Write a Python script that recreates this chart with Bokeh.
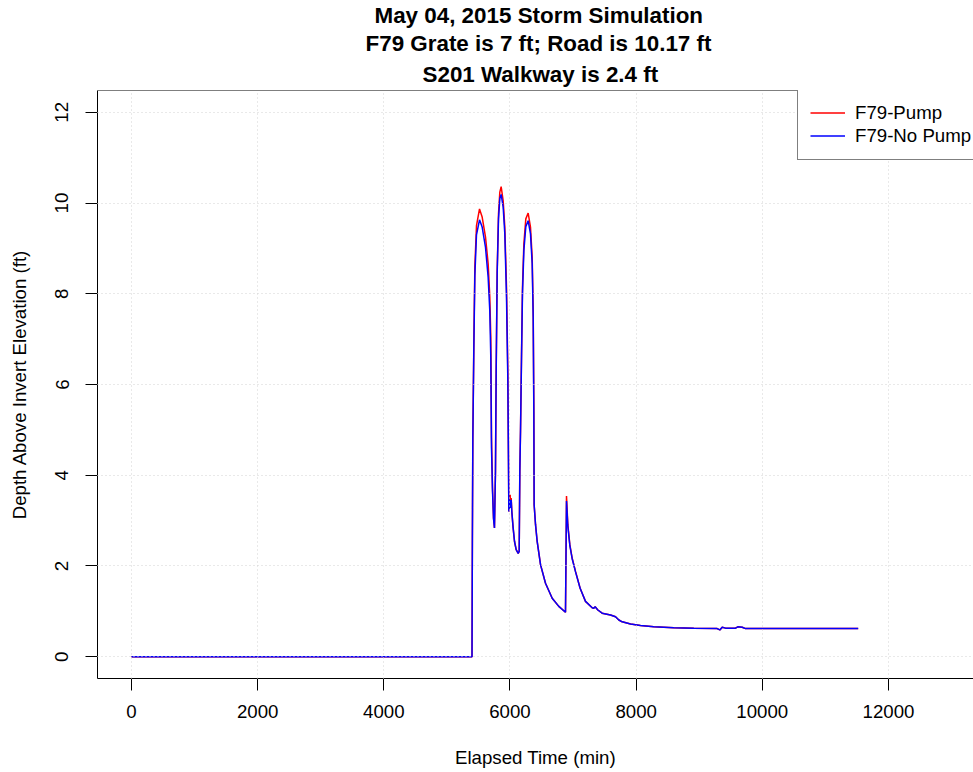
from bokeh.plotting import figure
from bokeh.models import (Title, FixedTicker, Legend, LegendItem, Span, Range1d)
from bokeh.embed import file_html
from bokeh.resources import INLINE

# ---- data ----
time_min = [0, 5398, 5404, 5411, 5427, 5443, 5469, 5517, 5559, 5612, 5654, 5680,
            5696, 5707, 5723, 5739, 5754, 5770, 5781, 5797, 5818, 5839, 5860, 5892,
            5918, 5945, 5966, 5976, 5982, 5992, 6003, 6008, 6019, 6029, 6050, 6072,
            6098, 6130, 6146, 6156, 6167, 6183, 6198, 6220, 6251, 6288, 6325, 6352,
            6368, 6378, 6383, 6405, 6431, 6484, 6563, 6669, 6774, 6880, 6896, 6917,
            6949, 6986, 7039, 7112, 7197, 7303, 7329, 7350, 7393, 7461, 7594, 7673,
            7726, 7779, 7911, 8069, 8281, 8598, 8915, 9284, 9327, 9364, 9417, 9575,
            9612, 9681, 9734, 10500, 11520]

depth_pump = [0, 0, 2.6, 4.8, 6.9, 8.6, 9.5, 9.87, 9.69, 9.25, 8.66, 7.92,
              7.03, 4.83, 3.72, 3.06, 2.84, 4.09, 6.30, 8.51, 9.76, 10.24, 10.36, 10.05,
              9.47, 8.14, 6.30, 4.46, 3.20, 3.43, 3.57, 3.28, 3.50, 3.20, 2.84, 2.54,
              2.36, 2.28, 2.32, 4.09, 4.98, 6.67, 8.14, 9.10, 9.65, 9.78, 9.47, 8.80,
              7.62, 5.56, 3.35, 2.91, 2.54, 2.03, 1.62, 1.29, 1.11, 0.98, 3.54, 2.91,
              2.47, 2.17, 1.88, 1.51, 1.22, 1.08, 1.07, 1.10, 1.03, 0.96, 0.92, 0.88,
              0.81, 0.77, 0.72, 0.69, 0.66, 0.64, 0.63, 0.62, 0.59, 0.65, 0.63, 0.63,
              0.66, 0.65, 0.62, 0.62, 0.62]

depth_nopump = [0, 0, 2.6, 4.8, 6.8, 8.4, 9.3, 9.63, 9.47, 9.02, 8.36, 7.62,
                6.59, 4.6, 3.65, 3.04, 2.84, 4.09, 6.25, 8.45, 9.65, 10.1, 10.19, 9.91,
                9.32, 7.92, 6.1, 4.3, 3.20, 3.40, 3.46, 3.28, 3.46, 3.20, 2.84, 2.54,
                2.36, 2.28, 2.32, 4.09, 4.98, 6.6, 8.0, 8.95, 9.48, 9.61, 9.32, 8.66,
                7.48, 5.4, 3.35, 2.91, 2.54, 2.03, 1.62, 1.29, 1.11, 0.98, 3.43, 2.88,
                2.45, 2.16, 1.87, 1.51, 1.22, 1.08, 1.07, 1.10, 1.03, 0.96, 0.92, 0.88,
                0.81, 0.77, 0.72, 0.69, 0.66, 0.64, 0.63, 0.62, 0.59, 0.65, 0.63, 0.63,
                0.66, 0.65, 0.62, 0.62, 0.62]

x_ticks = [0, 2000, 4000, 6000, 8000, 10000, 12000]
y_ticks = [0, 2, 4, 6, 8, 10, 12]
series_labels = ["F79-Pump", "F79-No Pump"]
title_lines = ["May 04, 2015 Storm Simulation",
               "F79 Grate is 7 ft; Road is 10.17 ft",
               "S201 Walkway is 2.4 ft"]

FONT = "Liberation Sans"
BASE = "18.67px"

p = figure(width=973, height=772, output_backend="svg", toolbar_location=None,
           x_range=Range1d(-539, 13348), y_range=Range1d(-0.48, 12.48),
           min_border_left=97, min_border_right=0, min_border_top=90,
           min_border_bottom=94)
p.title.visible = False
p.outline_line_color = None
p.background_fill_color = "white"
p.border_fill_color = "white"

title_offsets = [277, 268, 325]
title_standoffs = [1, 0, 8]
for txt, off, so in reversed(list(zip(title_lines, title_offsets, title_standoffs))):
    p.add_layout(Title(text=txt, align="left", offset=off, text_font=FONT,
                       text_font_size="22.4px", text_font_style="bold",
                       text_color="black", standoff=so), "above")

r1 = p.line(time_min, depth_pump, line_color="red", line_width=1.5)
r2 = p.line(time_min, depth_nopump, line_color="blue", line_width=1.5)

# top edge of the box
p.add_layout(Span(location=12.48, dimension="width", line_color="black", line_width=1))

for ax in (p.xaxis[0], p.yaxis[0]):
    ax.axis_line_color = "black"
    ax.major_tick_line_color = "black"
    ax.major_tick_out = 12
    ax.major_tick_in = 0
    ax.minor_tick_line_color = None
    ax.major_label_text_font = FONT
    ax.major_label_text_font_size = BASE
    ax.major_label_text_color = "black"
    ax.axis_label_text_font = FONT
    ax.axis_label_text_font_size = BASE
    ax.axis_label_text_font_style = "normal"
    ax.axis_label_text_color = "black"

p.xaxis.ticker = FixedTicker(ticks=x_ticks)
p.yaxis.ticker = FixedTicker(ticks=y_ticks)
p.xaxis.axis_label = "Elapsed Time (min)"
p.yaxis.axis_label = "Depth Above Invert Elevation (ft)"
p.xaxis.major_label_standoff = 14
p.xaxis.axis_label_standoff = 26
p.yaxis.major_label_standoff = 17
p.yaxis.axis_label_standoff = 23
p.yaxis.major_label_orientation = "vertical"

for g in (p.xgrid[0], p.ygrid[0]):
    g.grid_line_color = "#D3D3D3"
    g.grid_line_dash = "1 3"
    g.grid_line_width = 1
    g.level = "annotation"
p.xgrid.ticker = FixedTicker(ticks=x_ticks)
p.ygrid.ticker = FixedTicker(ticks=y_ticks)

legend = Legend(items=[LegendItem(label=series_labels[0], renderers=[r1]),
                       LegendItem(label=series_labels[1], renderers=[r2])],
                location=(700, 518), margin=0, padding=12, spacing=0,
                label_height=23, glyph_height=23, glyph_width=35,
                label_standoff=10, label_text_font=FONT,
                label_text_font_size=BASE, label_text_color="black",
                border_line_color="black", border_line_width=1,
                background_fill_color="white", background_fill_alpha=1)
p.add_layout(legend)

open("out.html", "w").write(file_html(p, INLINE))
